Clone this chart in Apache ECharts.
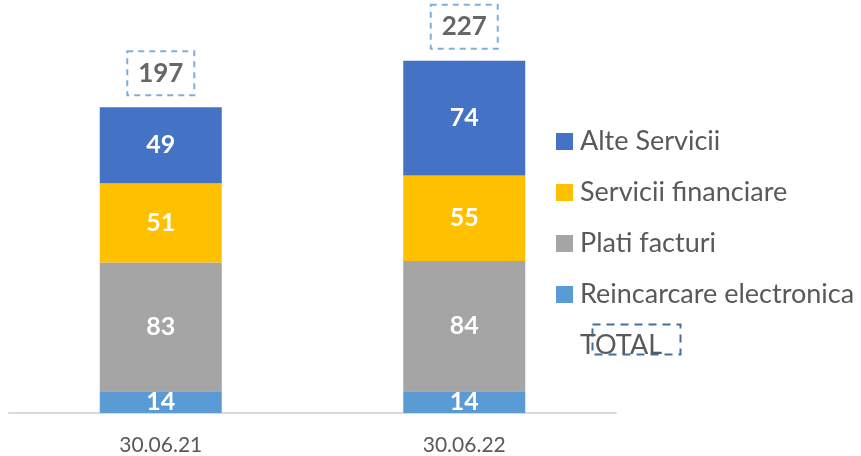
<!DOCTYPE html>
<html><head><meta charset="utf-8">
<script src="https://cdn.jsdelivr.net/npm/echarts@6/dist/echarts.min.js"></script>
<style>html,body{margin:0;padding:0;background:#fff}#c{width:861px;height:456px}</style>
</head><body><div id="c"></div>
<script>
const categories = ['30.06.21', '30.06.22'];
const reincarcare = [14, 14];
const platiFacturi = [83, 84];
const serviciiFinanciare = [51, 55];
const alteServicii = [49, 74];
const totals = [197, 227];

const FONT = 'Lato';
const chart = echarts.init(document.getElementById('c'));
const segLabel = {show: true, position: 'inside', color: '#fff', fontWeight: 'bold', fontSize: 25, fontFamily: FONT};
function bar(name, data, color) {
  return {name, type: 'bar', stack: 's', data, barWidth: 122,
    itemStyle: {color}, label: segLabel, emphasis: {disabled: true}};
}
chart.setOption({
  animation: false,
  grid: {left: 9, right: 245, top: 25, bottom: 40},
  xAxis: {type: 'category', data: categories,
    axisLine: {lineStyle: {color: '#d9d9d9', width: 2}}, axisTick: {show: false},
    axisLabel: {color: '#595959', fontSize: 21, fontFamily: FONT, margin: 22}},
  yAxis: {type: 'value', min: 0, max: 250, show: false},
  legend: {orient: 'vertical', left: 556, top: 128, padding: 0, itemWidth: 17, itemHeight: 17, itemGap: 24,
    textStyle: {color: '#595959', fontSize: 27, fontFamily: FONT, padding: [0, 0, 0, 2]},
    data: [{name: 'Alte Servicii', icon: 'rect'}, {name: 'Servicii financiare', icon: 'rect'},
      {name: 'Plati facturi', icon: 'rect'}, {name: 'Reincarcare electronica', icon: 'rect'},
      {name: 'TOTAL', icon: 'rect', itemStyle: {opacity: 0}}]},
  graphic: [{type: 'rect', left: 590, top: 322, shape: {width: 88, height: 30},
    style: {fill: 'none', stroke: '#41719c', lineWidth: 2, lineDash: [8, 6]}}],
  series: [
    bar('Reincarcare electronica', reincarcare, '#5b9bd5'),
    bar('Plati facturi', platiFacturi, '#a5a5a5'),
    bar('Servicii financiare', serviciiFinanciare, '#ffc000'),
    bar('Alte Servicii', alteServicii, '#4472c4'),
    {name: 'TOTAL', type: 'scatter', data: totals, symbolSize: 1, itemStyle: {color: 'transparent'},
      label: {show: true, position: 'inside', offset: [0, -34], color: '#404040', fontWeight: 'bold',
        fontSize: 26, fontFamily: FONT, borderColor: '#5b9bd5', borderWidth: 2, borderType: [6, 5],
        padding: [8, 12], width: 43, height: 28, align: 'center', verticalAlign: 'middle', lineHeight: 28},
      emphasis: {disabled: true}}
  ]
});
</script></body></html>
